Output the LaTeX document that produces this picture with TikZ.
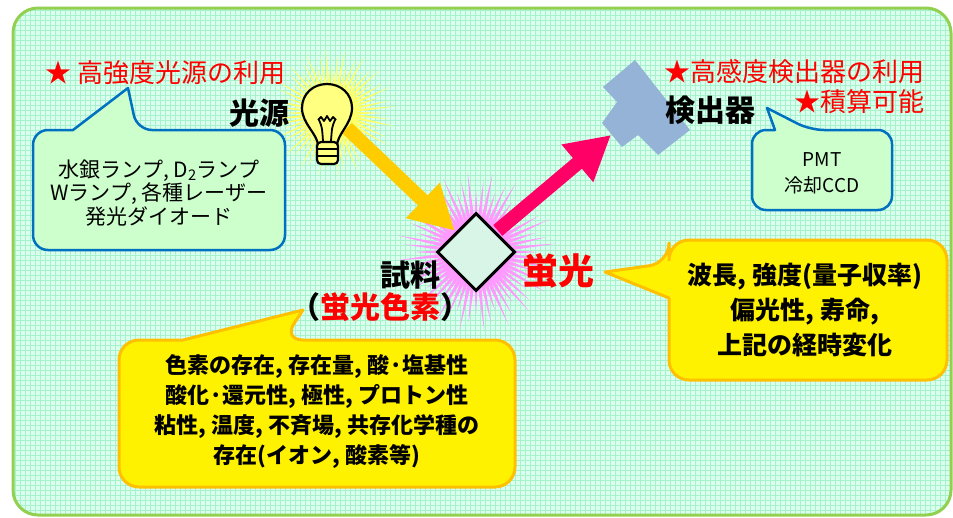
\documentclass[tikz,border=0pt]{standalone}
\usepackage{fontspec}
\setmainfont{Noto Sans CJK JP}
\usetikzlibrary{arrows.meta,positioning,shapes.geometric}
\definecolor{paper}{HTML}{DAFFEE}
\definecolor{gridline}{HTML}{A6F2CB}
\definecolor{framegreen}{HTML}{92D050}
\definecolor{bubblue}{HTML}{0070C0}
\definecolor{bubgreen}{HTML}{CCFFCC}
\definecolor{bubgold}{HTML}{FFC000}
\definecolor{beamgold}{HTML}{FFCC00}
\definecolor{beampink}{HTML}{FF0066}
\definecolor{starred}{HTML}{FF0000}
\definecolor{detblue}{HTML}{95B3D7}
\definecolor{samplefill}{HTML}{D8F5E8}
\definecolor{glowyellow}{HTML}{FFFF66}
\definecolor{burstpink}{HTML}{FF99FF}
\definecolor{bulbfill}{HTML}{FFFF80}

\begin{document}
\begin{tikzpicture}[x=1pt,y=-1pt,every node/.style={inner sep=0pt,align=center},
  note/.style={text=starred,font=\fontsize{26}{30}\selectfont},
  tag/.style={font=\bfseries\fontsize{30}{32}\selectfont},
  bluebub/.style={draw=bubblue,fill=bubgreen,line width=2.5pt,line join=round},
  goldbub/.style={draw=bubgold,fill=yellow,line width=3pt,line join=round},
  beam/.style={line width=14pt,-{Triangle[length=44pt,width=46pt]}},
  bulb/.style={draw=black,fill=bulbfill,line width=2.2pt},
  filament/.style={draw=black,line width=1.8pt,line join=round}]
\useasboundingbox (0,0) rectangle (953,517);
% graph paper inside the rounded frame
\begin{scope}
\clip[rounded corners=25pt] (13,8) rectangle (951,515);
\fill[paper] (13,8) rectangle (951,515);
\draw[gridline,line width=0.7pt,step=5pt] (10,5) grid (955,520);
\end{scope}
\draw[framegreen,line width=3pt,rounded corners=25pt] (13,8) rectangle (951,515);

\coordinate (lamp) at (332,113);
\coordinate (lampout) at (347,128);
\coordinate (det) at (611,135);
% glow around the lamp and the sample
\foreach \a [count=\i] in {0,6,...,354}{
  \pgfmathsetmacro\r{mod(\i,3)==0 ? 64 : (mod(\i,3)==1 ? 50 : 58)}
  \fill[glowyellow,shift={(lamp)}] (\a-4.5:20) -- (\a:\r) -- (\a+4.5:20) -- cycle;}
\foreach \a [count=\i] in {0,6,...,354}{
  \pgfmathsetmacro\r{mod(\i,3)==0 ? 80 : (mod(\i,3)==1 ? 62 : 72)}
  \fill[burstpink,shift={(476,252)}] (\a-4.5:28) -- (\a:\r) -- (\a+4.5:28) -- cycle;}

% speech bubbles
\draw[bluebub] (33,190) [rounded corners=15pt] -- (33,250) -- (285,250) -- (285,130) -- (137,130) [sharp corners] -- (128,88) -- (73,130) [rounded corners=15pt] -- (33,130) -- cycle;
\draw[bluebub] (752,170) [rounded corners=14pt] -- (752,210) -- (892,210) -- (892,130) -- (810,130) [sharp corners] -- (767,108) -- (775,130) [rounded corners=14pt] -- (752,130) -- cycle;
\draw[goldbub] (119,410) [rounded corners=20pt] -- (119,487) -- (515,487) -- (515,340) -- (283,340) [sharp corners] -- (303,310) -- (183,340) [rounded corners=20pt] -- (119,340) -- cycle;
\draw[goldbub] (808,380) [rounded corners=20pt] -- (947,380) -- (947,240) -- (669,240) -- (669,263) [sharp corners] -- (605,272) -- (669,298) [rounded corners=20pt] -- (669,380) -- cycle;

% detector
\fill[detblue] (635,60) -- (690,130) -- (658,155) -- (638,135) -- (622,147) -- (602,123) -- (617,102) -- (603,87) -- cycle;

\node[diamond,aspect=1,draw,fill=samplefill,line width=3pt,minimum width=78pt,minimum height=78pt] (sample) at (476,252) {};
\draw[beam,beamgold,shorten >=1.5pt] (lampout) -- (sample.north west);
\draw[beam,beampink,shorten <=2pt] (sample.north east) -- (det);

% light bulb
\draw[bulb] (318,146) .. controls (318,134) and (302,124) .. (302,108) .. controls (302,94) and (313,84) .. (327,84) .. controls (341,84) and (352,94) .. (352,108) .. controls (352,124) and (337,134) .. (337,146) -- cycle;
\draw[bulb,rounded corners=4pt] (317,142) rectangle (338,164);
\draw[line width=1.8pt] (317,149) -- (338,149) (317,156) -- (338,156);
\draw[filament] (318,120) -- (321,117) -- (324,121) -- (327,116) -- (330,121) -- (333,117) -- (336,120);
\draw[filament] (319,120) .. controls (322,127) .. (323,141);
\draw[filament] (335,120) .. controls (332,127) .. (331,141);

% labels
\node[note,anchor=west] (lampnote) at (45,73) {★ 高強度光源の利用};
\node[note,anchor=east] (detnote) at (925,72) {★高感度検出器の利用};
\node[note,anchor=east] (sumnote) at (925,102) {★積算可能};
\node[tag] (lamplbl) at (259,113) {光源};
\node[tag] (detlbl) at (710,110) {検出器};
\node[tag] (samplbl) at (410,275) {試料};
\node[tag] (dyelbl) at (380,307) {（\textcolor{starred}{蛍光色素}）};
\node[tag,text=starred,font=\bfseries\fontsize{36}{38}\selectfont] (fluorlbl) at (558,271) {蛍光};

% bubble texts
\node[font=\fontsize{21}{23.5}\selectfont] (lamplist) at (159,193) {水銀ランプ, D\textsubscript{2}ランプ\\Wランプ, 各種レーザー\\発光ダイオード};
\node[font=\fontsize{19}{26}\selectfont] (detlist) at (822,173) {PMT\\冷却CCD};
\node[font=\bfseries\fontsize{22}{30}\selectfont] (dyelist) at (317,412) {色素の存在, 存在量, 酸·塩基性\\酸化·還元性, 極性, プロトン性\\粘性, 温度, 不斉場, 共存化学種の\\存在(イオン, 酸素等)};
\node[font=\bfseries\fontsize{25}{35}\selectfont] (fluorlist) at (805,310) {波長, 強度(量子収率)\\偏光性, 寿命,\\上記の経時変化};
\end{tikzpicture}
\end{document}
